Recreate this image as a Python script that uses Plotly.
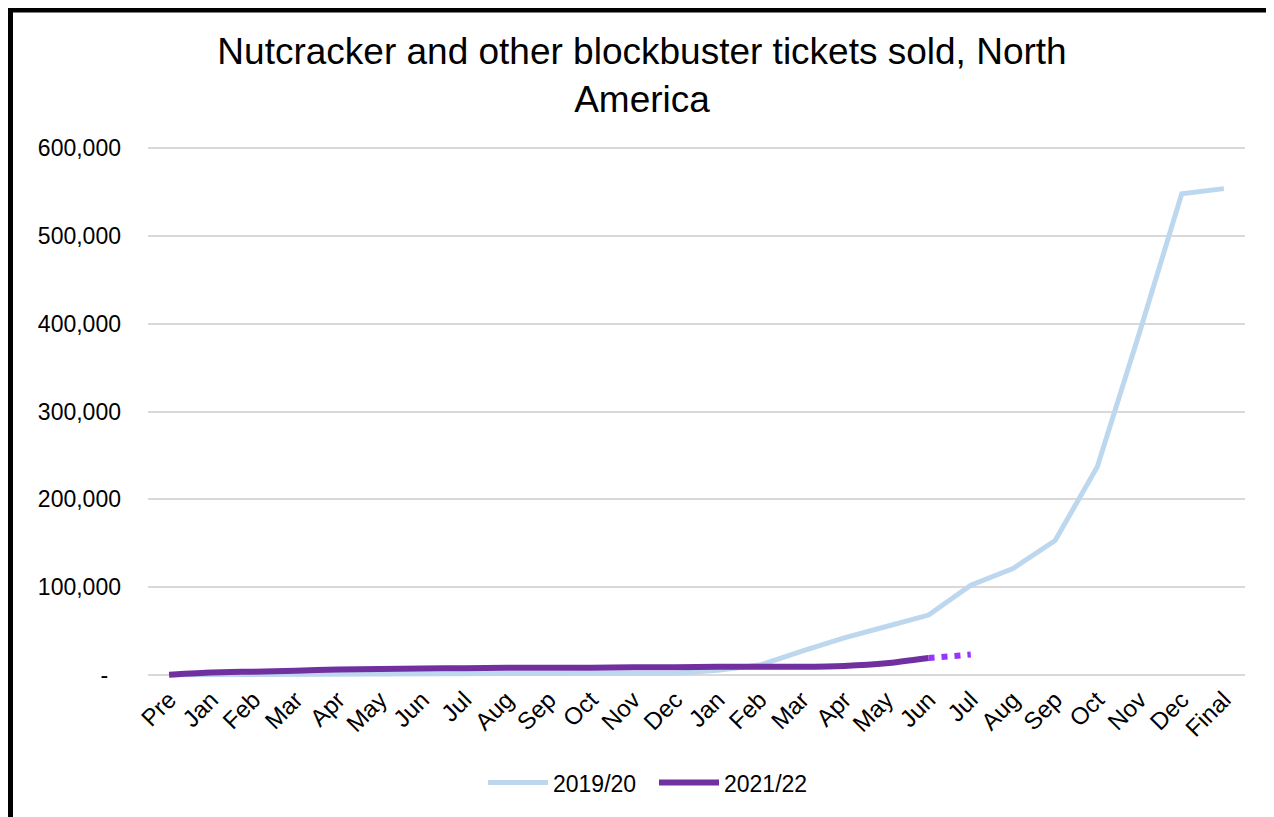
import plotly.graph_objects as go

categories = ["Pre", "Jan", "Feb", "Mar", "Apr", "May", "Jun", "Jul", "Aug", "Sep", "Oct", "Nov", "Dec",
              "Jan", "Feb", "Mar", "Apr", "May", "Jun", "Jul", "Aug", "Sep", "Oct", "Nov", "Dec", "Final"]

s2019 = [0, 300, 600, 800, 1000, 1100, 1200, 1300, 1400, 1500, 1600, 1700, 1800,
         5000, 11000, 27000, 42000, 55000, 68000, 102000, 121000, 153000, 237000, 390000, 548000, 554000]

s2021 = [0, 2500, 3500, 4500, 6000, 6500, 7000, 7500, 8000, 8000, 8000, 8500, 8500,
         9000, 9000, 9000, 10000, 13000, 19000]

projection = [19000, 23000]  # Jun -> Jul projection (dotted)

ytick_vals = [0, 100000, 200000, 300000, 400000, 500000, 600000]
ytick_text = ["-\u00a0\u00a0", "100,000", "200,000", "300,000", "400,000", "500,000", "600,000"]

FONT = "Arial, 'Liberation Sans', sans-serif"
x_idx = list(range(len(categories)))

fig = go.Figure()
fig.add_trace(go.Scatter(
    x=x_idx, y=s2019, mode="lines", name="2019/20",
    line=dict(color="#BDD7EE", width=5)))
fig.add_trace(go.Scatter(
    x=x_idx[:len(s2021)], y=s2021, mode="lines", name="2021/22",
    line=dict(color="#7030A0", width=6, shape="spline", smoothing=0.6)))
fig.add_trace(go.Scatter(
    x=x_idx[len(s2021) - 1:len(s2021) + 1], y=projection, mode="lines",
    showlegend=False, hoverinfo="skip",
    line=dict(color="#9933FF", width=6, dash="6px,7px")))

OFF = 8  # page body margin
W, H = 1274 - OFF, 817 - OFF
left, right = 148 - OFF, 1245 - OFF
pad = 6000
y0px, y600px = 675 - OFF, 148 - OFF
ppu = (y0px - y600px) / 600000
top = y600px - pad * ppu
bottom = y0px + pad * ppu

fig.update_layout(
    width=W, height=H,
    margin=dict(l=left, r=W - right, t=top, b=H - bottom, pad=0),
    paper_bgcolor="white", plot_bgcolor="white",
    font=dict(family=FONT, color="black", size=23),
    title=dict(text="Nutcracker and other blockbuster tickets sold, North<br>America",
               x=(642 - OFF) / W, xanchor="center", xref="container",
               y=1 - (64 - OFF) / H, yanchor="top", yref="container",
               font=dict(size=37, family=FONT, color="black")),
    xaxis=dict(range=[-0.5, len(categories) - 0.5], tickvals=x_idx, ticktext=categories,
               tickangle=-45, showgrid=False, zeroline=False, showline=False,
               ticks="", tickfont=dict(size=24)),
    yaxis=dict(range=[-pad, 600000 + pad], tickvals=ytick_vals, ticktext=ytick_text,
               showgrid=True, gridcolor="#D9D9D9", gridwidth=2, zeroline=False,
               showline=False, ticks="", ticklabelstandoff=26, tickfont=dict(size=23)),
    legend=dict(orientation="h", x=(654 - OFF - left) / (right - left), xanchor="center",
                y=(bottom - (783 - OFF)) / (bottom - top), yanchor="middle",
                font=dict(size=23), itemwidth=60, entrywidth=96, entrywidthmode="pixels",
                bgcolor="rgba(0,0,0,0)"),
    showlegend=True,
)

# outer black frame
def px_x(p):
    return (p - OFF - left) / (right - left)

def px_y(p):
    return (bottom - (p - OFF)) / (bottom - top)

fig.add_shape(type="rect", xref="paper", yref="paper",
              x0=px_x(10.5), x1=px_x(1272), y0=px_y(9.5), y1=px_y(840),
              line=dict(color="black", width=5), fillcolor="rgba(0,0,0,0)", layer="above")

fig.write_html("out.html")
